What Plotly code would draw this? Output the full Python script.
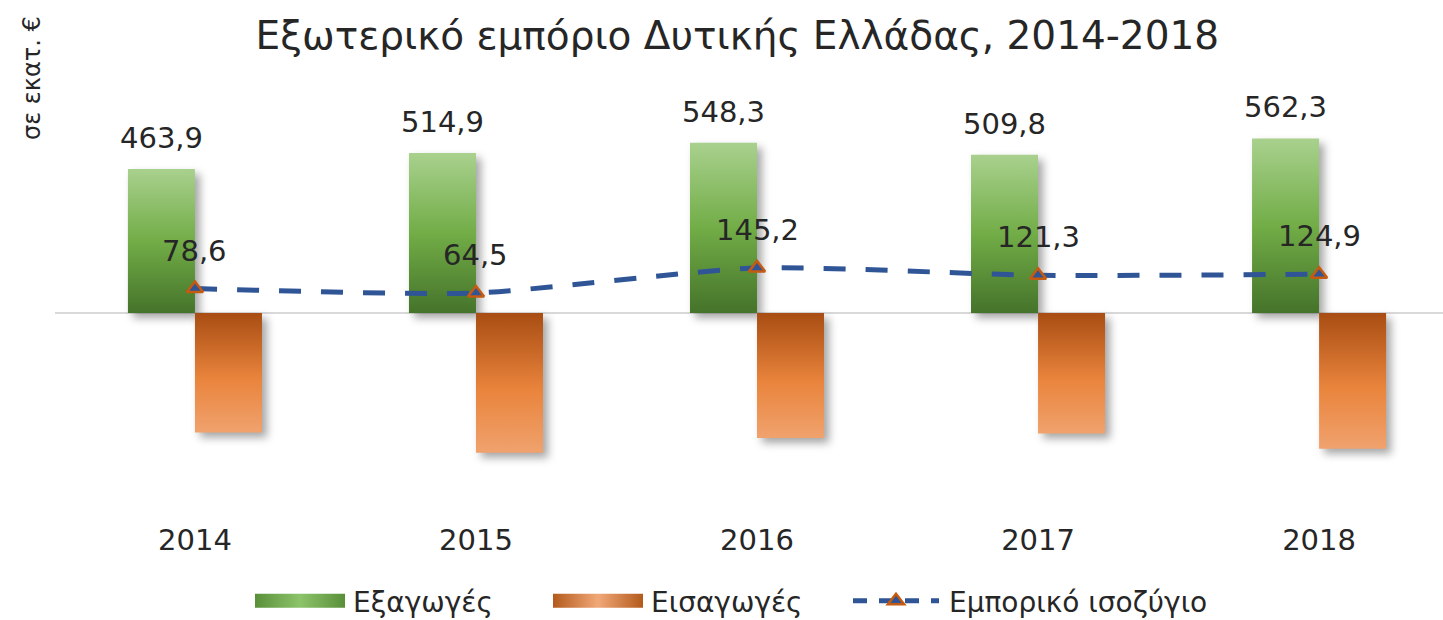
import plotly.graph_objects as go

years = ["2014", "2015", "2016", "2017", "2018"]
exports = [463.9, 514.9, 548.3, 509.8, 562.3]
imports = [385.3, 450.4, 403.1, 388.5, 437.4]
balance = [78.6, 64.5, 145.2, 121.3, 124.9]

FONT = "DejaVu Sans"
TXT = "#262626"

def fmt(v):
    return f"{v:.1f}".replace(".", ",")

fig = go.Figure()
fig.add_trace(go.Bar(
    x=years, y=exports, name="Εξαγωγές",
    marker=dict(color="#76aa4f", line=dict(width=0)),
))
fig.add_trace(go.Bar(
    x=years, y=[-v for v in imports], name="Εισαγωγές",
    marker=dict(color="#dc7634", line=dict(width=0)),
))
fig.add_trace(go.Scatter(
    x=years, y=balance, name="Εμπορικό ισοζύγιο",
    mode="lines+markers",
    line=dict(color="#2f5597", width=5, dash="22px,20px", shape="spline", smoothing=0.6),
    marker=dict(symbol="triangle-up", size=14, color="#2f5597",
                line=dict(color="#c55a11", width=2.5)),
))

L, R, T, B = 55, 0, 100, 95
W, H = 1443, 620
plot_w = W - L - R
plot_h = H - T - B

annotations = []
for i, v in enumerate(exports):
    annotations.append(dict(x=i, y=v, xref="x", yref="y", text=fmt(v),
                            showarrow=False, xshift=-33.5, yshift=31,
                            font=dict(family=FONT, size=29, color=TXT)))
for i, v in enumerate(balance):
    annotations.append(dict(x=i, y=v, xref="x", yref="y", text=fmt(v),
                            showarrow=False, yshift=38,
                            font=dict(family=FONT, size=29, color=TXT)))
annotations.append(dict(x=(32 - L) / plot_w, y=(H - B - 78) / plot_h,
                        xref="paper", yref="paper", text="σε εκατ. €",
                        xanchor="center", yanchor="middle",
                        showarrow=False, textangle=-90,
                        font=dict(family=FONT, size=24, color=TXT)))

fig.update_layout(
    width=W, height=H,
    margin=dict(l=L, r=R, t=T, b=B, autoexpand=False),
    paper_bgcolor="white", plot_bgcolor="white",
    barmode="group", bargap=0.523, bargroupgap=0,
    title=dict(text="Εξωτερικό εμπόριο Δυτικής Ελλάδας, 2014-2018",
               x=0.511, xanchor="center", y=1 - 35 / H, yanchor="middle",
               font=dict(family=FONT, size=39, color=TXT)),
    xaxis=dict(type="category", range=[-0.498, 4.441], showgrid=False, showline=False,
               ticks="", tickfont=dict(family=FONT, size=29, color=TXT), zeroline=False,
               ticklabelstandoff=-5),
    yaxis=dict(range=[-683, 686], showgrid=False, showticklabels=False,
               zeroline=True, zerolinecolor="#d9d9d9", zerolinewidth=2, showline=False),
    legend=dict(orientation="h", xref="container", x=(255 - 2) / W, xanchor="left",
                yref="container", y=1 - 601 / H, yanchor="middle",
                font=dict(family=FONT, size=28, color=TXT),
                itemwidth=90, tracegroupgap=0, entrywidth=193, entrywidthmode="pixels"),
    showlegend=True,
    annotations=annotations,
)

post = r"""
document.body.style.margin = '0';
document.documentElement.style.margin = '0';
var gd = document.getElementById('{plot_id}');
var svg = gd.querySelector('svg.main-svg');
var ns = 'http://www.w3.org/2000/svg';
var defs = document.createElementNS(ns, 'defs');
function lin(id, stops, horiz) {
  var g = document.createElementNS(ns, 'linearGradient');
  g.setAttribute('id', id);
  g.setAttribute('x1', '0'); g.setAttribute('y1', '0');
  g.setAttribute('x2', horiz ? '1' : '0'); g.setAttribute('y2', horiz ? '0' : '1');
  stops.forEach(function(s){
    var st = document.createElementNS(ns, 'stop');
    st.setAttribute('offset', s[0]); st.setAttribute('stop-color', s[1]);
    g.appendChild(st);
  });
  defs.appendChild(g);
}
lin('gGreen', [['0','#a9d18e'],['0.5','#72ad47'],['1','#45732a']], false);
lin('gOrange', [['0','#a84d13'],['0.55','#e9843c'],['1','#f0a26e']], false);
lin('gGreenL', [['0','#5a8f3a'],['0.5','#8cc46a'],['1','#5a8f3a']], true);
lin('gOrangeL', [['0','#b35a1c'],['0.5','#f1a878'],['1','#b35a1c']], true);
svg.insertBefore(defs, svg.firstChild);
var traces = gd.querySelectorAll('.barlayer .trace');
var ids = ['gGreen', 'gOrange'];
traces.forEach(function(t, k){
  t.querySelectorAll('path').forEach(function(p){
    p.style.fill = 'url(#' + ids[k] + ')';
    p.style.filter = 'drop-shadow(5px 5px 4px rgba(0,0,0,0.35))';
  });
});
gd.querySelectorAll('.legend, .legend *').forEach(function(e){
  if (e.hasAttribute && e.hasAttribute('clip-path')) { e.removeAttribute('clip-path'); }
});
var lt = gd.querySelectorAll('.legend .traces');
var lids = ['gGreenL', 'gOrangeL'];
lt.forEach(function(t, k){
  var te = t.querySelector('.legendtext');
  var tx = parseFloat(te.getAttribute('x')) || 40;
  var x1 = tx - 8;
  if (k < 2) {
    t.querySelectorAll('.legendpoints path').forEach(function(p){
      p.setAttribute('d', 'M2,-7H' + x1 + 'V7H2Z');
      p.setAttribute('transform', '');
      p.style.fill = 'url(#' + lids[k] + ')';
    });
  } else {
    t.querySelectorAll('.legendlines path').forEach(function(p){
      p.setAttribute('d', 'M4,0H' + (x1 - 2));
      p.setAttribute('transform', '');
      p.style.strokeDasharray = '14px,12px';
    });
    t.querySelectorAll('.legendpoints path').forEach(function(p){
      p.setAttribute('transform', 'translate(' + ((x1 + 2) / 2) + ',0)');
    });
  }
});
"""

fig.write_html("out.html", post_script=post, config={"displayModeBar": False})
